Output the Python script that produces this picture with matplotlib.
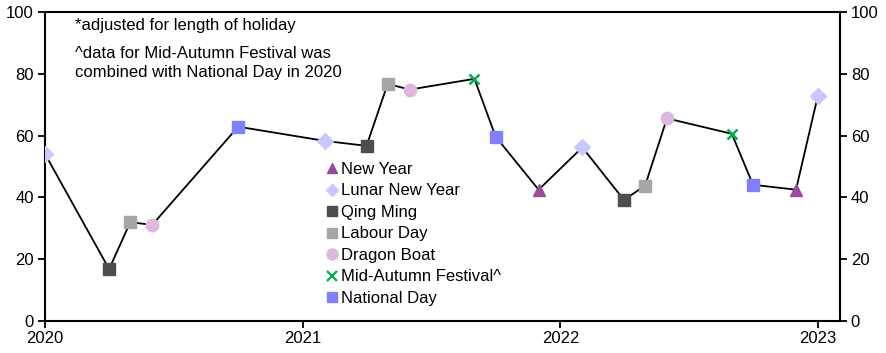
import matplotlib.pyplot as plt
import matplotlib.dates as mdates
from matplotlib.lines import Line2D
import pandas as pd

plt.rcParams['font.family'] = ['Liberation Sans', 'DejaVu Sans']

# month of each holiday reading and its index value
dates = ['2020-01', '2020-04', '2020-05', '2020-06', '2020-10',
         '2021-02', '2021-04', '2021-05', '2021-06', '2021-09', '2021-10', '2021-12',
         '2022-02', '2022-04', '2022-05', '2022-06', '2022-09', '2022-10', '2022-12',
         '2023-01']
values = [54.1, 16.8, 32.0, 31.1, 62.9,
          58.3, 56.7, 76.8, 74.9, 78.4, 59.7, 42.5,
          56.2, 39.2, 43.8, 65.6, 60.6, 44.1, 42.5,
          72.9]
holidays = ['Lunar New Year', 'Qing Ming', 'Labour Day', 'Dragon Boat', 'National Day',
            'Lunar New Year', 'Qing Ming', 'Labour Day', 'Dragon Boat', 'Mid-Autumn Festival^', 'National Day', 'New Year',
            'Lunar New Year', 'Qing Ming', 'Labour Day', 'Dragon Boat', 'Mid-Autumn Festival^', 'National Day', 'New Year',
            'Lunar New Year']

legend_order = ['New Year', 'Lunar New Year', 'Qing Ming', 'Labour Day',
                'Dragon Boat', 'Mid-Autumn Festival^', 'National Day']
# marker, colour, size on chart, size in legend
styles = {
    'New Year': ('^', '#9A4A9A', 9, 7.5),
    'Lunar New Year': ('D', '#C8C8FF', 8, 6.5),
    'Qing Ming': ('s', '#4D4D4D', 8.5, 7.5),
    'Labour Day': ('s', '#A6A6A6', 8.5, 7.5),
    'Dragon Boat': ('o', '#DDB9DD', 9, 8),
    'Mid-Autumn Festival^': ('x', '#00B050', 7, 6.5),
    'National Day': ('s', '#8080FF', 8.5, 7.5),
}

df = pd.DataFrame({'date': pd.to_datetime(dates), 'value': values, 'holiday': holidays})

fig = plt.figure(figsize=(8.87, 3.53), dpi=100)
ax = fig.add_axes([0.0507, 0.0907, 0.896, 0.875])

ax.plot(df['date'], df['value'], color='black', lw=1.3, zorder=2)

for name in legend_order:
    sub = df[df['holiday'] == name]
    m, c, s, _ = styles[name]
    ax.plot(sub['date'], sub['value'], ls='none', marker=m, color=c, mec=c,
            ms=s, mew=1.8 if m == 'x' else 1, zorder=3)

handles = []
for name in legend_order:
    m, c, _, ls = styles[name]
    handles.append(Line2D([], [], ls='none', marker=m, color=c, mec=c,
                          ms=ls, mew=1.6 if m == 'x' else 1))
ax.legend(handles, legend_order, loc='upper left', bbox_to_anchor=(0.355, 0.515),
          frameon=False, fontsize=12, handlelength=0.6, handletextpad=0.25,
          labelspacing=0.39, borderpad=0, borderaxespad=0)

ax.text(0.038, 0.958, '*adjusted for length of holiday', transform=ax.transAxes,
        fontsize=12, va='center', ha='left')
ax.text(0.038, 0.867, '^data for Mid-Autumn Festival was', transform=ax.transAxes,
        fontsize=12, va='center', ha='left')
ax.text(0.038, 0.803, 'combined with National Day in 2020', transform=ax.transAxes,
        fontsize=12, va='center', ha='left')

ax.set_ylim(0, 100)
ax.set_yticks(range(0, 101, 20))
ax.set_xlim(pd.Timestamp('2020-01-01'), pd.Timestamp('2023-02-01'))
ax.xaxis.set_major_locator(mdates.YearLocator())
ax.xaxis.set_major_formatter(mdates.DateFormatter('%Y'))

ax.tick_params(axis='both', labelsize=12, width=1.3, length=5, direction='out')
ax.tick_params(axis='x', pad=2)
ax.tick_params(axis='y', right=True, labelright=True, pad=3)
for sp in ax.spines.values():
    sp.set_linewidth(1.5)

fig.savefig('out.png', dpi=100)
